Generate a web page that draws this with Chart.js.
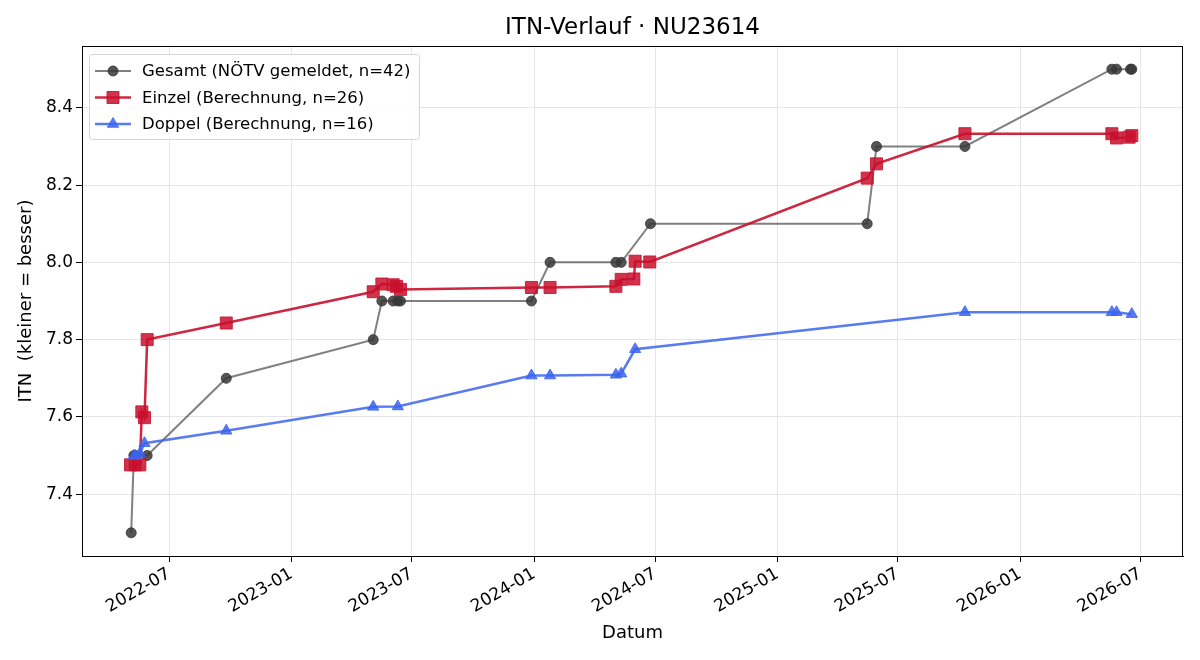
<!DOCTYPE html>
<html>
<head>
<meta charset="utf-8">
<title>ITN-Verlauf</title>
<script src="https://cdn.jsdelivr.net/npm/chart.js@4.4.1/dist/chart.umd.min.js"></script>
<style>
  html, body { margin: 0; padding: 0; background: #fff; }
  #wrap { width: 1200px; height: 660px; }
</style>
</head>
<body>
<div id="wrap"><canvas id="itnChart" width="1200" height="660"></canvas></div>
<script>
// Gesamt (NÖTV gemeldet)
const gesamtDates = [
  "2022-05-05", "2022-05-09", "2022-05-11", "2022-05-29", "2022-09-25",
  "2023-05-04", "2023-05-17", "2023-06-03", "2023-06-10", "2023-06-14",
  "2023-12-28", "2024-01-25", "2024-05-03", "2024-05-11", "2024-06-24",
  "2025-05-16", "2025-05-30", "2025-10-10", "2026-05-19", "2026-05-26",
  "2026-06-16", "2026-06-18"
];
const gesamtITN = [
  7.3, 7.5, 7.5, 7.5, 7.7,
  7.8, 7.9, 7.9, 7.9, 7.9,
  7.9, 8.0, 8.0, 8.0, 8.1,
  8.1, 8.3, 8.3, 8.5, 8.5,
  8.5, 8.5
];

// Einzel (Berechnung)
const einzelDates = [
  "2022-05-04", "2022-05-11", "2022-05-18", "2022-05-21", "2022-05-25",
  "2022-05-29", "2022-09-25", "2023-05-04", "2023-05-17", "2023-06-03",
  "2023-06-08", "2023-06-14", "2023-12-28", "2024-01-25", "2024-05-03",
  "2024-05-11", "2024-05-30", "2024-06-01", "2024-06-23", "2025-05-16",
  "2025-05-30", "2025-10-10", "2026-05-19", "2026-05-26", "2026-06-14",
  "2026-06-18"
];
const einzelITN = [
  7.476, 7.476, 7.476, 7.613, 7.598,
  7.800, 7.843, 7.924, 7.944, 7.942,
  7.938, 7.930, 7.935, 7.935, 7.938,
  7.956, 7.957, 8.003, 8.001, 8.218,
  8.255, 8.333, 8.333, 8.322, 8.324,
  8.328
];

// Doppel (Berechnung)
const doppelDates = [
  "2022-05-09", "2022-05-11", "2022-05-18", "2022-05-25", "2022-09-25",
  "2023-05-04", "2023-06-10", "2023-12-28", "2024-01-25", "2024-05-03",
  "2024-05-11", "2024-06-01", "2025-10-10", "2026-05-19", "2026-05-26",
  "2026-06-18"
];
const doppelITN = [
  7.499, 7.499, 7.505, 7.532, 7.564,
  7.626, 7.627, 7.707, 7.707, 7.709,
  7.712, 7.775, 7.871, 7.871, 7.871,
  7.866
];

const xTickDates = [
  "2022-07-01", "2023-01-01", "2023-07-01", "2024-01-01", "2024-07-01",
  "2025-01-01", "2025-07-01", "2026-01-01", "2026-07-01"
];
const yTicks = [7.4, 7.6, 7.8, 8.0, 8.2, 8.4];

const seriesLabels = [
  "Gesamt (NÖTV gemeldet, n=42)",
  "Einzel (Berechnung, n=26)",
  "Doppel (Berechnung, n=16)"
];

const FONT = "'DejaVu Sans', 'Liberation Sans', sans-serif";

const toPoints = (dates, vals) =>
  dates.map((d, i) => ({ x: Date.parse(d), y: vals[i] }));

// same shapes as chart.js point styles, for the legend
function drawMarker(ctx, style, x, y, r) {
  ctx.beginPath();
  if (style === "rect") {
    const h = r * Math.SQRT1_2;
    ctx.rect(x - h, y - h, 2 * h, 2 * h);
  } else if (style === "triangle") {
    for (let k = 0; k < 3; k++) {
      const a = -Math.PI / 2 + k * (2 * Math.PI / 3);
      const px = x + Math.cos(a) * r, py = y + Math.sin(a) * r;
      if (k === 0) ctx.moveTo(px, py); else ctx.lineTo(px, py);
    }
    ctx.closePath();
  } else {
    ctx.arc(x, y, r, 0, Math.PI * 2);
  }
  ctx.fill();
  ctx.stroke();
}

// axes frame + legend inside the plot (matplotlib style)
const framePlugin = {
  id: "frame",
  afterDraw(chart) {
    const { ctx, chartArea: a } = chart;
    ctx.save();
    ctx.strokeStyle = "#000";
    ctx.lineWidth = 1;
    ctx.strokeRect(Math.round(a.left) + 0.5, Math.round(a.top) + 0.5,
      Math.round(a.right - a.left) - 1, Math.round(a.bottom - a.top));

    const bx = a.left + 7, by = a.top + 8, bw = 330, bh = 85;
    ctx.beginPath();
    ctx.roundRect(bx + 0.5, by + 0.5, bw, bh, 3);
    ctx.fillStyle = "rgba(255,255,255,0.85)";
    ctx.fill();
    ctx.strokeStyle = "#d6d6d6";
    ctx.stroke();

    ctx.font = "16.5px " + FONT;
    ctx.textBaseline = "middle";
    ctx.textAlign = "left";
    chart.data.datasets.forEach((ds, i) => {
      const y = by + 17 + i * 26.5;
      ctx.strokeStyle = ds.borderColor;
      ctx.lineWidth = ds.borderWidth;
      ctx.beginPath();
      ctx.moveTo(bx + 6, y);
      ctx.lineTo(bx + 42, y);
      ctx.stroke();
      ctx.fillStyle = ds.pointBackgroundColor;
      ctx.strokeStyle = ds.pointBorderColor;
      ctx.lineWidth = 1;
      drawMarker(ctx, ds.pointStyle, bx + 24, y, ds.pointRadius);
      ctx.fillStyle = "#000";
      ctx.fillText(ds.label, bx + 53, y + 1);
    });
    ctx.restore();
  }
};

new Chart("itnChart", {
  type: "line",
  data: {
    datasets: [
      {
        label: seriesLabels[0],
        data: toPoints(gesamtDates, gesamtITN),
        borderColor: "rgba(60,60,60,0.65)",
        borderWidth: 2,
        pointStyle: "circle",
        pointRadius: 5,
        pointBackgroundColor: "rgba(55,55,55,0.85)",
        pointBorderColor: "rgba(55,55,55,0.85)",
        pointBorderWidth: 1,
        order: 3
      },
      {
        label: seriesLabels[1],
        data: toPoints(einzelDates, einzelITN),
        borderColor: "rgba(200,16,46,0.9)",
        borderWidth: 2.5,
        pointStyle: "rect",
        pointRadius: 8.5,
        pointBackgroundColor: "rgba(200,16,46,0.85)",
        pointBorderColor: "rgba(200,16,46,0.85)",
        pointBorderWidth: 1,
        order: 2
      },
      {
        label: seriesLabels[2],
        data: toPoints(doppelDates, doppelITN),
        borderColor: "rgba(60,100,240,0.85)",
        borderWidth: 2.5,
        pointStyle: "triangle",
        pointRadius: 6.5,
        pointBackgroundColor: "rgba(60,100,240,0.85)",
        pointBorderColor: "rgba(60,100,240,0.85)",
        pointBorderWidth: 1,
        order: 1
      }
    ]
  },
  options: {
    responsive: false,
    animation: false,
    clip: false,
    layout: { padding: { left: 0, right: 17, top: 0, bottom: 0 } },
    plugins: {
      legend: { display: false },
      tooltip: { enabled: false },
      title: {
        display: true,
        text: "ITN-Verlauf · NU23614",
        fullSize: false,
        color: "#000",
        font: { family: FONT, size: 23, weight: "normal" },
        padding: { top: 14, bottom: 4.4 }
      }
    },
    scales: {
      x: {
        type: "linear",
        min: Date.UTC(2022, 1, 20),
        max: Date.UTC(2026, 8, 3),
        afterBuildTicks: (s) => {
          s.ticks = xTickDates.map((d) => ({ value: Date.parse(d) }));
        },
        afterFit: (s) => { s.height = 104; },
        grid: { color: "#e6e6e6", tickColor: "#000", tickLength: 6 },
        border: { display: true, color: "#000" },
        ticks: {
          autoSkip: false,
          minRotation: 30,
          maxRotation: 30,
          padding: 2,
          color: "#000",
          font: { family: FONT, size: 17 },
          callback: (v) => new Date(v).toISOString().slice(0, 7)
        },
        title: {
          display: true,
          text: "Datum",
          color: "#000",
          font: { family: FONT, size: 18 },
          padding: { top: 0, bottom: 16 }
        }
      },
      y: {
        min: 7.24,
        max: 8.56,
        afterBuildTicks: (s) => {
          s.ticks = yTicks.map((v) => ({ value: v }));
        },
        afterFit: (s) => { s.width = 82; },
        grid: { color: "#e6e6e6", tickColor: "#000", tickLength: 6 },
        border: { display: true, color: "#000" },
        ticks: {
          padding: 3,
          color: "#000",
          font: { family: FONT, size: 17 },
          callback: (v) => v.toFixed(1)
        },
        title: {
          display: true,
          text: "ITN  (kleiner = besser)",
          color: "#000",
          font: { family: FONT, size: 18 },
          padding: { top: 15.5, bottom: 0 }
        }
      }
    }
  },
  plugins: [framePlugin]
});
</script>
</body>
</html>
